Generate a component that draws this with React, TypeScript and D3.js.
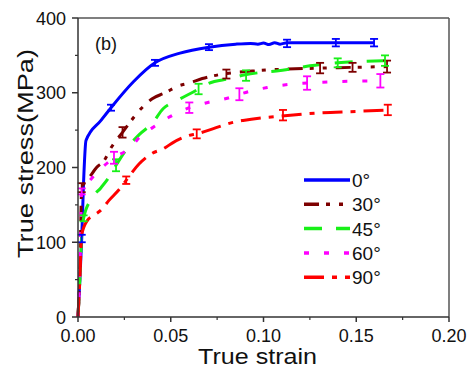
import React from "react";
import * as d3 from "d3";

const W = 474;
const H = 375;

const xTicks = [0, 0.05, 0.1, 0.15, 0.2];
const yTicks = [0, 100, 200, 300, 400];
const seriesNames = ["0°", "30°", "45°", "60°", "90°"];
const seriesColors = ["#0000ff", "#7d0000", "#18f018", "#ff00ff", "#ff0000"];
const seriesDash = ["none", "15,7,4,9,4,9", "18,14", "5,15", "20,8,5,8"];

const s0: [number, number][] = [
  [0, 0], [0.001, 50], [0.002, 105], [0.003, 180], [0.0043, 236], [0.0124, 263],
  [0.0178, 280], [0.03, 315], [0.0415, 340], [0.055, 353], [0.0706, 361],
  [0.085, 365], [0.093, 366], [0.097, 365], [0.1, 366.5], [0.103, 364.5], [0.106, 367],
  [0.109, 365], [0.1127, 367], [0.125, 367], [0.139, 367], [0.1596, 367],
];
const s30: [number, number][] = [
  [0, 0], [0.001, 60], [0.002, 173], [0.0054, 184], [0.01, 200], [0.014, 209],
  [0.018, 227], [0.024, 247], [0.0345, 280], [0.04, 292], [0.047, 300], [0.054, 309],
  [0.06, 313], [0.067, 319], [0.078, 325], [0.094, 329], [0.1305, 333], [0.148, 334],
  [0.1666, 335],
];
const s45: [number, number][] = [
  [0, 0], [0.001, 50], [0.002, 110], [0.003, 132], [0.0075, 159], [0.0124, 173],
  [0.0167, 187], [0.0205, 203], [0.0275, 229], [0.033, 244], [0.04, 259], [0.046, 279],
  [0.053, 289], [0.065, 305], [0.07, 312], [0.082, 319], [0.09, 324], [0.098, 327],
  [0.107, 329], [0.118, 333], [0.125, 336], [0.14, 340], [0.1655, 343],
];
const s60: [number, number][] = [
  [0, 0], [0.001, 60], [0.002, 168], [0.0065, 183], [0.013, 200], [0.0194, 213],
  [0.0275, 225], [0.035, 245], [0.04, 253], [0.0496, 268], [0.06, 280], [0.07, 287],
  [0.081, 293], [0.087, 298], [0.102, 307], [0.113, 311], [0.1235, 313], [0.14, 315],
  [0.163, 316],
];
const s90: [number, number][] = [
  [0, 0], [0.001, 50], [0.002, 110], [0.005, 129], [0.0086, 136], [0.0124, 143],
  [0.0167, 156], [0.023, 173], [0.026, 183], [0.033, 205], [0.04, 219], [0.046, 225],
  [0.051, 233], [0.06, 243], [0.064, 245], [0.073, 252], [0.083, 260], [0.089, 263],
  [0.11, 269], [0.13, 273], [0.15, 275], [0.167, 277],
];
const seriesData = [s0, s30, s45, s60, s90];

// [strain, stress, error]
const e0 = [[0.002, 105, 5], [0.0178, 280, 4], [0.0415, 340, 4], [0.0706, 361, 4], [0.1127, 366, 5], [0.139, 367, 5], [0.1596, 367, 5]];
const e30 = [[0.002, 173, 6], [0.024, 247, 7], [0.08, 325, 6], [0.1305, 333, 7], [0.148, 334, 6], [0.1666, 335, 8]];
const e45 = [[0.003, 132, 4], [0.0205, 203, 8], [0.065, 305, 7], [0.0906, 323, 7], [0.14, 340, 6], [0.1655, 343, 7]];
const e60 = [[0.002, 168, 4], [0.0194, 213, 8], [0.06, 280, 7], [0.087, 298, 8], [0.1235, 313, 9], [0.163, 316, 9]];
const e90 = [[0.026, 183, 5], [0.064, 245, 6], [0.1105, 270, 7], [0.167, 277, 7]];
const errData = [e0, e30, e45, e60, e90];

const L = 78, R = 449, T = 18, B = 317;

export default function App() {
  const x = d3.scaleLinear().domain([0, 0.2]).range([L, R]);
  const y = d3.scaleLinear().domain([0, 400]).range([B, T]);
  const line = d3.line<[number, number]>().x(d => x(d[0])).y(d => y(d[1])).curve(d3.curveMonotoneX);
  const font = "Arial, 'Liberation Sans', sans-serif";
  const xMinor = d3.range(0.025, 0.2, 0.05);
  const yMinor = d3.range(50, 400, 100);
  return (
    <svg width={W} height={H} style={{ position: "absolute", left: 0, top: 0, background: "#fff" }} fontFamily={font}>
      <rect x={0} y={0} width={W} height={H} fill="#fff" />
      {/* frame */}
      <line x1={L} y1={T} x2={R} y2={T} stroke="#555" strokeWidth={1.5} />
      <line x1={R} y1={T} x2={R} y2={B} stroke="#555" strokeWidth={1.5} />
      {/* series */}
      {seriesData.map((d, i) => (
        <path key={i} d={line(d) || ""} fill="none" stroke={seriesColors[i]} strokeWidth={3}
          strokeDasharray={seriesDash[i]} strokeLinejoin="round" />
      ))}
      {errData.map((arr, i) => (
        <g key={i} stroke={seriesColors[i]} strokeWidth={1.8}>
          {arr.map((e, j) => {
            const cx = x(e[0]);
            const y1 = y(e[1] + e[2]);
            const y2 = y(e[1] - e[2]);
            return (
              <g key={j}>
                <line x1={cx} x2={cx} y1={y1} y2={y2} />
                <line x1={cx - 4} x2={cx + 4} y1={y1} y2={y1} />
                <line x1={cx - 4} x2={cx + 4} y1={y2} y2={y2} />
              </g>
            );
          })}
        </g>
      ))}
      {/* axes */}
      <line x1={L} y1={B} x2={R} y2={B} stroke="#333" strokeWidth={1.5} />
      <line x1={L} y1={T} x2={L} y2={B} stroke="#333" strokeWidth={1.5} />
      {xTicks.map(t => (
        <g key={t}>
          <line x1={x(t)} x2={x(t)} y1={B} y2={B + 5} stroke="#333" strokeWidth={1.5} />
          <text x={x(t)} y={342} textAnchor="middle" fontSize={18} fill="#111">{t.toFixed(2)}</text>
        </g>
      ))}
      {xMinor.map(t => (
        <line key={t} x1={x(t)} x2={x(t)} y1={B} y2={B + 3} stroke="#333" strokeWidth={1.2} />
      ))}
      {yTicks.map(t => (
        <g key={t}>
          <line x1={L - 6} x2={L} y1={y(t)} y2={y(t)} stroke="#333" strokeWidth={1.5} />
          <text x={66} y={y(t) + 6.5} textAnchor="end" fontSize={18} fill="#111">{t}</text>
        </g>
      ))}
      {yMinor.map(t => (
        <line key={t} x1={L - 3} x2={L} y1={y(t)} y2={y(t)} stroke="#333" strokeWidth={1.2} />
      ))}
      <text x={198} y={364} fontSize={21.5} textLength={119} lengthAdjust="spacingAndGlyphs" fill="#111">True strain</text>
      <text transform={`translate(33,258) rotate(-90)`} fontSize={21.5} textLength={209} lengthAdjust="spacingAndGlyphs" fill="#111">True stress(MPa)</text>
      <text x={95} y={50} fontSize={18} fill="#111">(b)</text>
      {/* legend */}
      {seriesNames.map((n, i) => {
        const ly = 180 + i * 24.3;
        return (
          <g key={n}>
            <line x1={304} x2={350} y1={ly} y2={ly} stroke={seriesColors[i]} strokeWidth={3.5}
              strokeDasharray={seriesDash[i]} />
            <text x={352} y={ly + 7} fontSize={19} fill="#111">{n}</text>
          </g>
        );
      })}
    </svg>
  );
}
